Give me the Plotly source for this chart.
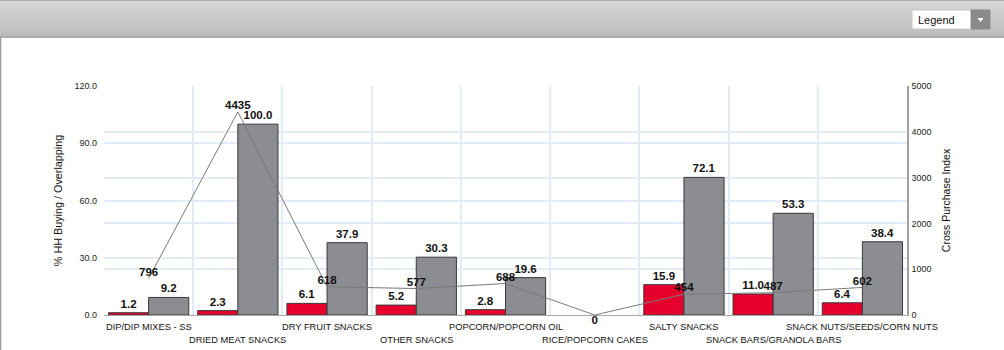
import plotly.graph_objects as go

categories = ["DIP/DIP MIXES - SS", "DRIED MEAT SNACKS", "DRY FRUIT SNACKS", "OTHER SNACKS",
              "POPCORN/POPCORN OIL", "RICE/POPCORN CAKES", "SALTY SNACKS",
              "SNACK BARS/GRANOLA BARS", "SNACK NUTS/SEEDS/CORN NUTS"]
hh_buying = [1.2, 2.3, 6.1, 5.2, 2.8, 0, 15.9, 11.0, 6.4]
overlapping = [9.2, 100.0, 37.9, 30.3, 19.6, 0, 72.1, 53.3, 38.4]
cross_index = [796, 4435, 618, 577, 688, 0, 454, 487, 602]
left_ticks = [0, 30, 60, 90, 120]
right_ticks = [0, 1000, 2000, 3000, 4000, 5000]

W, H = 1004, 350
L, R, T, B = 104, 97, 86, 35
PW, PH = W - L - R, H - T - B

def px(x):
    return (x - L) / PW

def py(y):
    return (H - B - y) / PH

xs = list(range(len(categories)))
FONT = "Liberation Sans, Arial, sans-serif"

def bar(vals, color, name):
    return go.Bar(
        x=xs, y=vals, name=name,
        marker=dict(color=color, line=dict(color="#3a3a3a",
                                           width=[1 if v else 0 for v in vals])),
        text=[f"<b>{v:.1f}</b>" if v else "" for v in vals], textposition="outside",
        textfont=dict(family=FONT, size=11.5, color="#111"), constraintext="none",
        cliponaxis=False,
    )

fig = go.Figure()
fig.add_trace(bar(hh_buying, "#e8002d", "% HH Buying"))
fig.add_trace(bar(overlapping, "#8b8d92", "% Overlapping"))
fig.add_trace(go.Scatter(
    x=xs, y=cross_index, yaxis="y2", mode="lines+text", name="Cross Purchase Index",
    line=dict(color="#7a7a7a", width=1),
    text=[f"<b>{v}</b>" for v in cross_index],
    textposition=["top center" if v else "bottom center" for v in cross_index],
    textfont=dict(family=FONT, size=11.5, color="#111"),
    cliponaxis=False,
))

shapes = []
# header gradient
n = 19
top_c, bot_c = 0xd8, 0xbb
for i in range(n):
    y0 = i * 37 / n
    y1 = (i + 1) * 37 / n + 0.5
    c = int(top_c + (bot_c - top_c) * i / (n - 1))
    col = f"rgb({c},{c},{c})"
    shapes.append(dict(type="rect", xref="paper", yref="paper",
                       x0=px(0), x1=px(W), y0=py(y1), y1=py(y0),
                       fillcolor=col, line=dict(width=0), layer="above"))
shapes.append(dict(type="line", xref="paper", yref="paper", x0=px(0), x1=px(W),
                   y0=py(37), y1=py(37), line=dict(color="#a3a3a3", width=1.5)))
shapes.append(dict(type="line", xref="paper", yref="paper", x0=px(0), x1=px(W),
                   y0=py(0.5), y1=py(0.5), line=dict(color="#a8a8a8", width=1)))
shapes.append(dict(type="line", xref="paper", yref="paper", x0=px(0.5), x1=px(0.5),
                   y0=py(37), y1=py(H), line=dict(color="#a0a0a0", width=1.5)))
# legend dropdown
shapes.append(dict(type="rect", xref="paper", yref="paper", x0=px(912), x1=px(990),
                   y0=py(29), y1=py(10), fillcolor="white",
                   line=dict(color="#c8c8c8", width=1)))
shapes.append(dict(type="rect", xref="paper", yref="paper", x0=px(971), x1=px(990),
                   y0=py(29), y1=py(10), fillcolor="#8a8a8a",
                   line=dict(color="#8a8a8a", width=1)))
shapes.append(dict(type="path", xref="paper", yref="paper",
                   path=f"M {px(977.5)},{py(18)} L {px(983.5)},{py(18)} L {px(980.5)},{py(22)} Z",
                   fillcolor="white", line=dict(width=0)))

annotations = [dict(text="Legend", xref="paper", yref="paper", x=px(916), y=py(19.5),
                    xanchor="left", yanchor="middle", showarrow=False,
                    font=dict(family=FONT, size=11, color="#111"))]
for i, c in enumerate(categories):
    annotations.append(dict(text=c, x=i, xref="x", yref="paper", y=0, yanchor="top",
                            xanchor="center", yshift=-5 if i % 2 == 0 else -18,
                            showarrow=False, font=dict(family=FONT, size=9.3, color="#111")))

fig.update_layout(
    width=W, height=H, margin=dict(l=L, r=R, t=T, b=B, pad=0),
    paper_bgcolor="white", plot_bgcolor="white",
    barmode="group", bargap=0.1, bargroupgap=0,
    showlegend=False,
    shapes=shapes, annotations=annotations,
    xaxis=dict(range=[-0.5, len(categories) - 0.5], tick0=-0.5, dtick=1,
               showticklabels=False, showgrid=True, gridcolor="#e3ebf6", gridwidth=2,
               showline=True, linecolor="#a8a8a8", linewidth=1, zeroline=False, ticks=""),
    yaxis=dict(range=[0, 120], tickvals=left_ticks, ticktext=[f"{v:.1f}" for v in left_ticks],
               showgrid=True, gridcolor="#e3ebf6", gridwidth=2, zeroline=False,
               tickfont=dict(family=FONT, size=9, color="#222"), ticklabelstandoff=6,
               title=dict(text="% HH Buying / Overlapping", standoff=9,
                          font=dict(family=FONT, size=10.8, color="#111"))),
    yaxis2=dict(range=[0, 5000], tickvals=right_ticks, overlaying="y", side="right",
                showgrid=True, gridcolor="#e3ebf6", gridwidth=2, zeroline=False,
                showline=True, linecolor="#a0a0a0", linewidth=1.5,
                tickfont=dict(family=FONT, size=9, color="#222"), ticklabelstandoff=1,
                title=dict(text="Cross Purchase Index", standoff=12,
                           font=dict(family=FONT, size=10.5, color="#111"))),
)

fig.write_html("out.html")
